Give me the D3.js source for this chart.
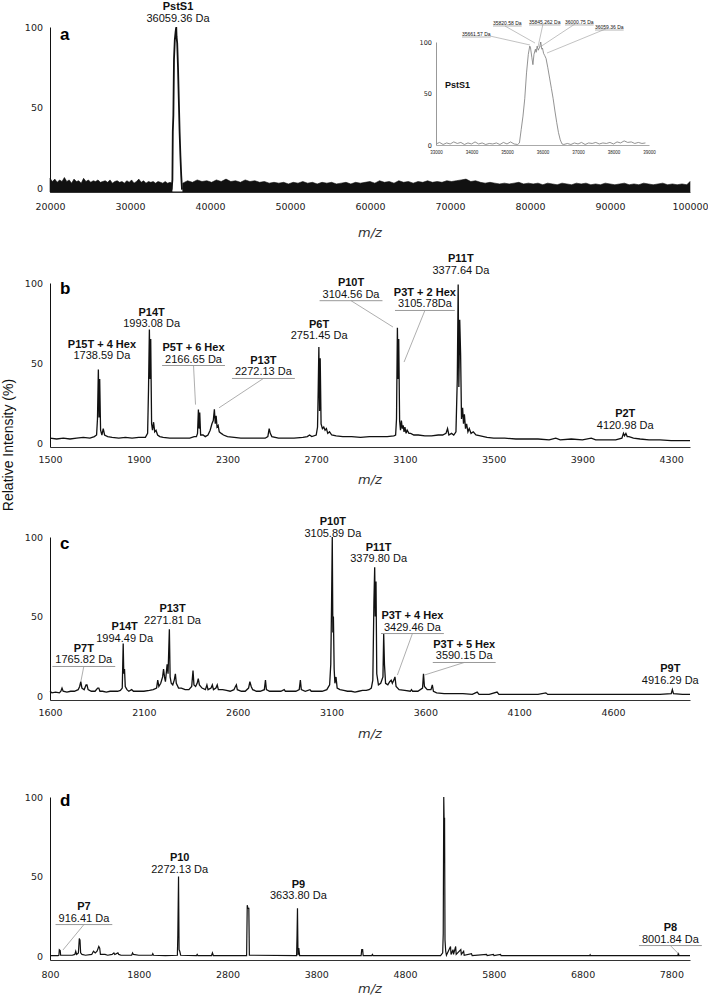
<!DOCTYPE html>
<html>
<head>
<meta charset="utf-8">
<script src="https://cdn.jsdelivr.net/npm/d3@7/dist/d3.min.js"></script>
<style>
body { margin: 0; background: #fff; }
svg { display: block; }
.tick text { font-family: "DejaVu Sans", Verdana, sans-serif; font-size: 9.5px; fill: #222; }
.lbl { font-family: "Liberation Sans", Arial, sans-serif; font-size: 11px; fill: #111; }
.name { font-weight: bold; }
.mz { font-family: "DejaVu Sans", Verdana, sans-serif; font-style: italic; font-size: 13px; fill: #333; }
.letter { font-family: "Liberation Sans", Arial, sans-serif; font-weight: bold; font-size: 17px; }
</style>
</head>
<body>
<svg id="chart" width="708" height="1000"></svg>
<script>
"use strict";

/* ---------- data ---------- */

var ticksA = [20000, 30000, 40000, 50000, 60000, 70000, 80000, 90000, 100000],
    ticksB = [1500, 1900, 2300, 2700, 3100, 3500, 3900, 4300],
    ticksC = [1600, 2100, 2600, 3100, 3600, 4100, 4600],
    ticksD = [800, 1800, 2800, 3800, 4800, 5800, 6800, 7800],
    ticksInset = [33000, 34000, 35000, 36000, 37000, 38000, 39000],
    ticksIntensity = [0, 50, 100];

// panel a: noise envelope (top of the black band) and the PstS1 peak
var noiseA = [
    [20000,6],[20300,4],[20600,5.5],[20900,3.5],[21200,5],[21500,4],[21800,6.5],[22100,4],
    [22400,5],[22700,3],[23000,5.5],[23300,4],[23600,4.5],[23900,3],[24200,6],[24500,4],
    [24800,5],[25100,3.5],[25400,4.5],[25700,4],[26000,5],[26300,3.5],[26600,4],[26900,4.5],
    [27200,3.5],[27500,5],[27800,3],[28100,4],[28400,4.5],[28700,3.5],[29000,4],[29300,3],
    [29600,4.5],[29900,3.5],[30200,5],[30500,3],[30800,4],[31100,5.5],[31400,3.5],[31700,4.5],
    [32000,3],[32300,4],[32600,3.5],[32900,4],[33200,3],[33500,4],[33800,3.5],[34100,3],
    [34400,4],[34700,3],[35000,3.5],[35250,3],[35260,-2.5],[36590,-2.5],
    [36600,3],[37200,4.5],[37800,3.5],[38400,5],[39000,4],[39600,4.5],[40200,3.5],[40800,5],
    [41400,4],[42000,5.5],[42600,4],[43200,4.5],[43800,3.5],[44400,5],[45000,4],[45600,4.5],
    [46200,3.5],[46800,4],[47400,3],[48000,3.5],[48600,3],[49200,3.5],[49800,2.5],[50400,3.5],
    [51000,3],[51600,4],[52200,3],[52800,3.5],[53400,2.5],[54000,3.5],[54600,3],[55200,3.5],
    [55800,2.5],[56400,3],[57000,3.5],[57600,2.5],[58200,3.5],[58800,3],[59400,3.5],[60000,4],
    [60600,3],[61200,4.5],[61800,3.5],[62400,4],[63000,3],[63600,4.5],[64200,3.5],[64800,4],
    [65400,3],[66000,4],[66600,3.5],[67200,4.5],[67800,3.5],[68400,4],[69000,3.5],[69600,4.5],
    [70200,4],[70800,4.5],[71400,5],[72000,5.5],[72600,4],[73200,4.5],[73800,3.5],[74400,3],
    [75000,3.5],[75600,3],[76200,2.5],[76800,3],[77400,2.5],[78000,3],[78600,3.5],[79200,2.5],
    [79800,3],[80400,2.5],[81000,3],[81600,2],[82200,3],[82800,2.5],[83400,2],[84000,3],
    [84600,2.5],[85200,2],[85800,3],[86400,2.5],[87000,3],[87600,2],[88200,2.5],[88800,2],
    [89400,3],[90000,2.5],[90600,2],[91200,2.5],[91800,3],[92400,2],[93000,2.5],[93600,2],
    [94200,3],[94800,2.5],[95400,2],[96000,2.5],[96600,3],[97200,2],[97800,2.5],[98400,2],
    [99000,2.5],[99600,2],[100000,4]
];

var peakA = [
    [35200,-1],[35300,5],[35350,35],[35420,45],[35500,80],[35600,92],[35700,97],[35780,100],
    [35820,94],[35900,90],[36000,75],[36100,55],[36200,35],[36300,20],[36400,8],[36500,-1]
];

var insetProfile = [
    [33000,1],[33100,2.5],[33200,0.5],[33300,2],[33400,1],[33500,3],[33600,1.5],[33700,2.5],
    [33800,0.5],[33900,2],[34000,1],[34100,3],[34200,1],[34300,2],[34400,0.5],[34500,1.5],
    [34600,1],[34700,2],[34800,0.5],[34900,2.5],[35000,1],[35100,3],[35200,1],[35300,0.5],
    [35350,2],[35400,15],[35450,28],[35500,45],[35550,70],[35600,88],[35640,96],[35660,95],
    [35700,85],[35730,78],[35760,88],[35800,93],[35820,90],[35850,96],[35880,92],[35920,95],
    [35950,100],[35980,93],[36000,94],[36030,89],[36060,87],[36100,84],[36150,75],[36200,65],
    [36250,55],[36300,45],[36350,33],[36400,22],[36450,12],[36500,5],[36550,1],[36600,0.5],
    [36700,1.5],[36800,0.5],[36900,2],[37000,1],[37100,2.5],[37200,0.5],[37300,2],[37400,1.5],
    [37500,2.5],[37600,1],[37700,2],[37800,1.5],[37900,2.5],[38000,1],[38100,3],[38200,2],
    [38300,4],[38400,2.5],[38500,3],[38600,1.5],[38700,2.5],[38800,1.5],[38900,2]
];

var specB = [
    [1500,3],[1530,2.5],[1560,3],[1590,2.5],[1620,3],[1650,3.5],[1680,3],[1700,4],[1710,5],
    [1714,15],[1718,46],[1721,16],[1724,40],[1728,8],[1734,5],[1740,9],[1746,5],[1760,4],
    [1780,3.5],[1810,3],[1840,3.5],[1870,3],[1900,3.5],[1930,3.5],[1940,6],[1944,33],[1948,71],
    [1951,40],[1954,65],[1958,12],[1962,8],[1967,13],[1972,7],[1978,8],[1985,5],[1995,4],
    [2010,3.5],[2040,3],[2070,3],[2100,3],[2130,3],[2150,4],[2160,4],[2165,6],[2169,21],
    [2172,9],[2175,19],[2179,5],[2190,5],[2200,4],[2212,5],[2222,8],[2230,12],[2236,14],
    [2241,21],[2245,12],[2249,17],[2253,10],[2258,11],[2263,7],[2272,6],[2282,5],[2300,4],
    [2330,3.5],[2360,3],[2400,3],[2440,3],[2470,3],[2482,4],[2488,9],[2493,6],[2500,4],
    [2530,3],[2560,3],[2600,3],[2640,3.5],[2660,4],[2670,5],[2680,4],[2700,5],[2706,10],
    [2709,33],[2712,60],[2715,20],[2718,53],[2722,12],[2728,9],[2734,10],[2740,8],[2746,9],
    [2752,6],[2760,7],[2770,5],[2790,4.5],[2820,4],[2860,4],[2900,3.5],[2940,4],[2980,4],
    [3020,4],[3050,4.5],[3058,5],[3062,15],[3066,72],[3069,40],[3072,65],[3076,14],[3080,8],
    [3084,14],[3088,9],[3092,11],[3096,7],[3100,10],[3105,6],[3110,8],[3118,6],[3126,6],
    [3140,5],[3160,5],[3190,4.5],[3220,4.5],[3250,5],[3270,5],[3285,6],[3292,9],[3298,5],
    [3310,6],[3320,5],[3330,7],[3336,40],[3340,99],[3343,35],[3347,77],[3351,55],[3355,15],
    [3360,22],[3364,12],[3368,18],[3373,9],[3378,12],[3384,7],[3390,9],[3398,6],[3408,7],
    [3420,5],[3440,4.5],[3470,3.5],[3500,3],[3550,3],[3600,2.5],[3650,2.5],[3700,2.5],
    [3750,2],[3780,3],[3800,2],[3850,2.5],[3900,2],[3940,3],[3960,2],[4000,2],[4050,2],
    [4078,3],[4085,6],[4090,4.5],[4096,6],[4102,4],[4110,4],[4130,3],[4160,2.5],[4200,2],
    [4250,2],[4300,1.5],[4350,1.5],[4385,1.5]
];

var specC = [
    [1600,3],[1610,2],[1630,2.5],[1650,2],[1658,3],[1664,5],[1670,3],[1690,2.5],[1710,3],
    [1730,3],[1750,4],[1758,6],[1764,9],[1770,5],[1782,4],[1792,7],[1797,7],[1803,4],
    [1820,3],[1840,3],[1854,5],[1860,5],[1866,3],[1880,3],[1900,2.5],[1920,3],[1940,3],
    [1960,3],[1975,3.5],[1985,5],[1990,33],[1993,14],[1997,17],[2001,6],[2010,4],[2020,3],
    [2035,4],[2045,3],[2070,3],[2100,3],[2130,3.5],[2150,4],[2168,5],[2174,10],[2180,6],
    [2190,8],[2200,12],[2205,17],[2210,12],[2215,9],[2224,20],[2229,14],[2236,42],[2240,12],
    [2246,8],[2254,7],[2262,10],[2268,14],[2273,8],[2285,5],[2300,5],[2320,4],[2340,4],
    [2355,6],[2362,16],[2367,7],[2376,6],[2384,8],[2390,11],[2396,7],[2410,5],[2428,4],
    [2436,7],[2442,4],[2458,5],[2465,7],[2471,4],[2484,5],[2491,7],[2497,4],[2520,4],
    [2540,3.5],[2560,3],[2580,4],[2588,6],[2593,7],[2598,4],[2620,3],[2640,3],[2658,5],
    [2665,9],[2672,6],[2680,4],[2700,3],[2720,3],[2742,4],[2748,10],[2753,4],[2770,3],
    [2800,3],[2830,3],[2848,4],[2854,3],[2880,3],[2910,3],[2928,4],[2934,10],[2939,4],
    [2960,3],[2985,4],[2992,3],[3020,3],[3050,3],[3075,4],[3090,7],[3096,20],[3100,56],
    [3104,100],[3107,40],[3110,50],[3114,17],[3118,8],[3124,12],[3130,5],[3145,4],[3165,3.5],
    [3185,3],[3205,3],[3225,2.5],[3245,3],[3265,3.5],[3285,3.5],[3300,4],[3312,5],[3320,10],
    [3326,60],[3330,81],[3333,50],[3337,72],[3341,14],[3350,7],[3362,8],[3374,12],[3378,39],
    [3382,20],[3388,8],[3400,7],[3410,9],[3418,10],[3424,8],[3432,10],[3438,12],[3444,6],
    [3460,4],[3490,3.5],[3520,3],[3526,4],[3532,3],[3560,3],[3585,5],[3590,14],[3595,6],
    [3610,4],[3630,4],[3637,7],[3643,3],[3660,2],[3700,1.5],[3760,1.5],[3800,1.5],[3850,1],
    [3876,2.5],[3886,1],[3940,1],[3982,2.5],[3992,1],[4050,1],[4100,1],[4150,1],[4200,1],
    [4242,2],[4252,1],[4300,1],[4350,1],[4400,1],[4450,1],[4500,1],[4550,1],[4600,1],
    [4650,1],[4700,1],[4750,1],[4800,1],[4850,1],[4910,1.5],[4916,4],[4922,1.5],[4970,1],
    [5010,1]
];

var specD = [
    [800,0.3],[890,0.3],[900,0.5],[905,4],[915,3.5],[920,0.5],[1050,0.5],[1080,1],[1090,3],
    [1100,1],[1120,2],[1130,11],[1138,10],[1145,2],[1160,1],[1200,0.5],[1270,1],[1290,3],
    [1310,2],[1330,3],[1350,6],[1360,5],[1368,1],[1420,1],[1450,0.5],[1500,1],[1520,2],
    [1530,1],[1565,2],[1575,1],[1600,0.5],[1720,0.5],[1730,2],[1740,1],[1800,0.5],[1950,0.5],
    [1958,1.5],[1966,0.5],[2100,0.3],[2235,0.5],[2240,13],[2248,50],[2254,4],[2262,3],
    [2272,0.5],[2450,0.3],[2458,1],[2466,0.3],[2620,0.3],[2630,2],[2640,0.3],[3015,0.3],
    [3022,32],[3030,30],[3040,30],[3046,0.5],[3578,0.3],[3583,13],[3588,30],[3594,0.5],
    [3603,5],[3612,0.3],[4305,0.3],[4312,4],[4322,4],[4328,0.3],[4425,0.3],[4432,1],
    [4440,0.3],[5200,0.3],[5224,2],[5230,14],[5236,100],[5240,86],[5245,87],[5250,10],
    [5258,3],[5266,0.5],[5312,6],[5318,1],[5340,4],[5346,1],[5370,6],[5376,1],[5428,4],
    [5434,1],[5460,3],[5466,0.5],[5548,1.5],[5556,0.3],[5718,1],[5725,0.3],[5795,1],
    [5802,0.3],[5875,1],[5882,0.3],[6880,0.3],[6885,0.8],[6890,0.3],[7873,0.3],[7879,2],
    [7885,0.3],[8010,0.3]
];

// peak labels: anchor (mz, intensity) of the bold name; "to" = end of the leader line
var labelsA = [
    {name: "PstS1", mass: "36059.36 Da", mz: 36000, v: 110.4}
];

var labelsB = [
    {name: "P15T + 4 Hex", mass: "1738.59 Da", mz: 1734, v: 59.4},
    {name: "P14T", mass: "1993.08 Da", mz: 1958, v: 79.4},
    {name: "P5T + 6 Hex", mass: "2166.65 Da", mz: 2147, v: 57.5, to: [2156, 24]},
    {name: "P13T", mass: "2272.13 Da", mz: 2462, v: 49.4, to: [2262, 22]},
    {name: "P6T", mass: "2751.45 Da", mz: 2713, v: 71.9},
    {name: "P10T", mass: "3104.56 Da", mz: 2857, v: 98, to: [3046, 72.5]},
    {name: "P3T + 2 Hex", mass: "3105.78Da", mz: 3190, v: 91.9, to: [3096, 50.6]},
    {name: "P11T", mass: "3377.64 Da", mz: 3352, v: 113},
    {name: "P2T", mass: "4120.98 Da", mz: 4093, v: 16}
];

var labelsC = [
    {name: "P7T", mass: "1765.82 Da", mz: 1780, v: 27.7, to: [1764, 8.8]},
    {name: "P14T", mass: "1994.49 Da", mz: 1998, v: 41.5},
    {name: "P13T", mass: "2271.81 Da", mz: 2253, v: 52.8},
    {name: "P10T", mass: "3105.89 Da", mz: 3107, v: 107.5},
    {name: "P11T", mass: "3379.80 Da", mz: 3351, v: 91.2},
    {name: "P3T + 4 Hex", mass: "3429.46 Da", mz: 3531, v: 48.4, to: [3451, 13.2]},
    {name: "P3T + 5 Hex", mass: "3590.15 Da", mz: 3807, v: 30.2, to: [3595, 13.2]},
    {name: "P9T", mass: "4916.29 Da", mz: 4905, v: 15}
];

var labelsD = [
    {name: "P7", mass: "916.41 Da", mz: 1182, v: 28.9, to: [946, 3.8]},
    {name: "P10", mass: "2272.13 Da", mz: 2261, v: 59.7},
    {name: "P9", mass: "3633.80 Da", mz: 3598, v: 42.8},
    {name: "P8", mass: "8001.84 Da", mz: 7789, v: 15.7, to: [7879, 1.5]}
];

var insetLabels = [
    {text: "35661.57 Da", mz: 33732, v: 105.8, from: [34521, 105.8], to: [35648, 97.1]},
    {text: "35820.58 Da", mz: 34606, v: 116.5, from: [34944, 115.5], to: [35789, 99]},
    {text: "35845.262 Da", mz: 35620, v: 117.5, from: [36014, 117.5], to: [35873, 95.1]},
    {text: "36000.75 Da", mz: 36634, v: 117.5, from: [36915, 117.5], to: [35930, 95.1]},
    {text: "36059.36 Da", mz: 37479, v: 112.6, from: [37845, 113.6], to: [36127, 89.3]}
];

/* ---------- layout ---------- */

var plotLeft = 50,
    plotRight = 690,
    svg = d3.select("#chart"),
    lineColour = "#111",
    leaderColour = "#999";

var drawPanel = function(p) {
    var x = d3.scaleLinear().domain(p.xDomain).range([plotLeft, plotRight]),
        y = d3.scaleLinear().domain([-2.5, 100]).range([p.bottom, p.top]),
        g = svg.append("g").attr("class", "panel-" + p.letter),
        line = d3.line()
            .x(function(d) { return x(d[0]); })
            .y(function(d) { return y(d[1]); });

    if (p.noise) {
        g.append("path")
            .datum(p.noise)
            .attr("fill", lineColour)
            .attr("stroke", lineColour)
            .attr("stroke-width", 0.6)
            .attr("d", d3.area()
                  .x(function(d) { return x(d[0]); })
                  .y0(y(-2.5))
                  .y1(function(d) { return y(d[1]); }));
    }

    g.append("path")
        .datum(p.spectrum)
        .attr("fill", "none")
        .attr("stroke", lineColour)
        .attr("stroke-width", p.lineWidth)
        .attr("d", line);

    g.append("g")
        .attr("transform", "translate(0," + p.bottom + ")")
        .call(d3.axisBottom(x)
              .tickValues(p.ticks)
              .tickSize(0)
              .tickPadding(p.tickPad)
              .tickFormat(d3.format("d")))
        .call(function(a) { a.select(".domain").attr("stroke", "#333"); });

    g.append("g")
        .attr("transform", "translate(" + plotLeft + ",0)")
        .call(d3.axisLeft(y)
              .tickValues(ticksIntensity)
              .tickSize(0)
              .tickPadding(7))
        .call(function(a) { a.select(".domain").attr("stroke", "#111"); });

    g.append("text")
        .attr("class", "letter")
        .attr("x", 60)
        .attr("y", p.letterY)
        .text(p.letter);

    g.append("text")
        .attr("class", "mz")
        .attr("x", (plotLeft + plotRight) / 2)
        .attr("y", p.titleY)
        .attr("text-anchor", "middle")
        .text("m/z");

    p.labels.forEach(function(d) {
        var cx = x(d.mz),
            cy = y(d.v);

        g.append("text")
            .attr("class", "lbl name")
            .attr("x", cx)
            .attr("y", cy)
            .attr("text-anchor", "middle")
            .text(d.name);

        var mass = g.append("text")
                .attr("class", "lbl")
                .attr("x", cx)
                .attr("y", cy + 11.5)
                .attr("text-anchor", "middle")
                .text(d.mass);

        if (d.to) {
            var w = mass.node().getComputedTextLength(),
                uy = cy + 14.5;

            g.append("line")
                .attr("x1", cx - w / 2 - 3).attr("x2", cx + w / 2 + 3)
                .attr("y1", uy).attr("y2", uy)
                .attr("stroke", leaderColour);

            g.append("line")
                .attr("x1", cx).attr("y1", uy)
                .attr("x2", x(d.to[0])).attr("y2", y(d.to[1]))
                .attr("stroke", leaderColour)
                .attr("stroke-width", 0.8);
        }
    });
};

drawPanel({letter: "a", xDomain: [20000, 100000], top: 27, bottom: 192, ticks: ticksA,
           tickPad: 11, titleY: 237, letterY: 40, noise: noiseA, spectrum: peakA,
           lineWidth: 1.8, labels: labelsA});
drawPanel({letter: "b", xDomain: [1500, 4385], top: 283, bottom: 447, ticks: ticksB,
           tickPad: 9.5, titleY: 484, letterY: 294, spectrum: specB,
           lineWidth: 1.3, labels: labelsB});
drawPanel({letter: "c", xDomain: [1600, 5010], top: 537, bottom: 700, ticks: ticksC,
           tickPad: 9.5, titleY: 738, letterY: 549, spectrum: specC,
           lineWidth: 1.3, labels: labelsC});
drawPanel({letter: "d", xDomain: [800, 8010], top: 797, bottom: 960, ticks: ticksD,
           tickPad: 11, titleY: 993, letterY: 806, spectrum: specD,
           lineWidth: 1.2, labels: labelsD});

/* ---------- inset of panel a ---------- */

var drawInset = function() {
    var x = d3.scaleLinear().domain([33000, 39000]).range([436, 649]),
        y = d3.scaleLinear().domain([0, 100]).range([145, 42]),
        g = svg.append("g").attr("class", "inset");

    g.append("path")
        .datum(insetProfile)
        .attr("fill", "none")
        .attr("stroke", "#777")
        .attr("stroke-width", 0.8)
        .attr("d", d3.line()
              .x(function(d) { return x(d[0]); })
              .y(function(d) { return y(d[1]); }));

    g.append("g")
        .attr("transform", "translate(0,145)")
        .call(d3.axisBottom(x).tickValues(ticksInset).tickSize(0).tickPadding(6)
              .tickFormat(d3.format("d")))
        .call(function(a) {
            a.select(".domain").attr("stroke", "#aaa");
            a.selectAll("text").style("font-size", "4.5px").style("font-family", "Liberation Sans, Arial");
        });

    g.append("g")
        .attr("transform", "translate(436,0)")
        .call(d3.axisLeft(y).tickValues(ticksIntensity).tickSize(0).tickPadding(4))
        .call(function(a) {
            a.select(".domain").attr("stroke", "#999");
            a.selectAll("text").style("font-size", "6.5px");
        });

    g.append("text")
        .attr("class", "lbl name")
        .style("font-size", "9px")
        .attr("x", 445)
        .attr("y", 88)
        .text("PstS1");

    insetLabels.forEach(function(d) {
        var lx = x(d.mz),
            ly = y(d.v),
            t = g.append("text")
                .attr("class", "lbl")
                .style("font-size", "5px")
                .attr("x", lx)
                .attr("y", ly)
                .text(d.text),
            w = t.node().getComputedTextLength();

        g.append("line")
            .attr("x1", lx).attr("x2", lx + w)
            .attr("y1", ly + 1).attr("y2", ly + 1)
            .attr("stroke", "#444").attr("stroke-width", 0.4);

        g.append("line")
            .attr("x1", x(d.from[0])).attr("y1", y(d.from[1]))
            .attr("x2", x(d.to[0])).attr("y2", y(d.to[1]))
            .attr("stroke", leaderColour)
            .attr("stroke-width", 0.6);
    });
};

drawInset();

svg.append("text")
    .attr("transform", "translate(13,445) rotate(-90)")
    .attr("text-anchor", "middle")
    .style("font-family", "Liberation Sans, Arial, sans-serif")
    .style("font-size", "14px")
    .attr("fill", "#111")
    .text("Relative Intensity (%)");
</script>
</body>
</html>
